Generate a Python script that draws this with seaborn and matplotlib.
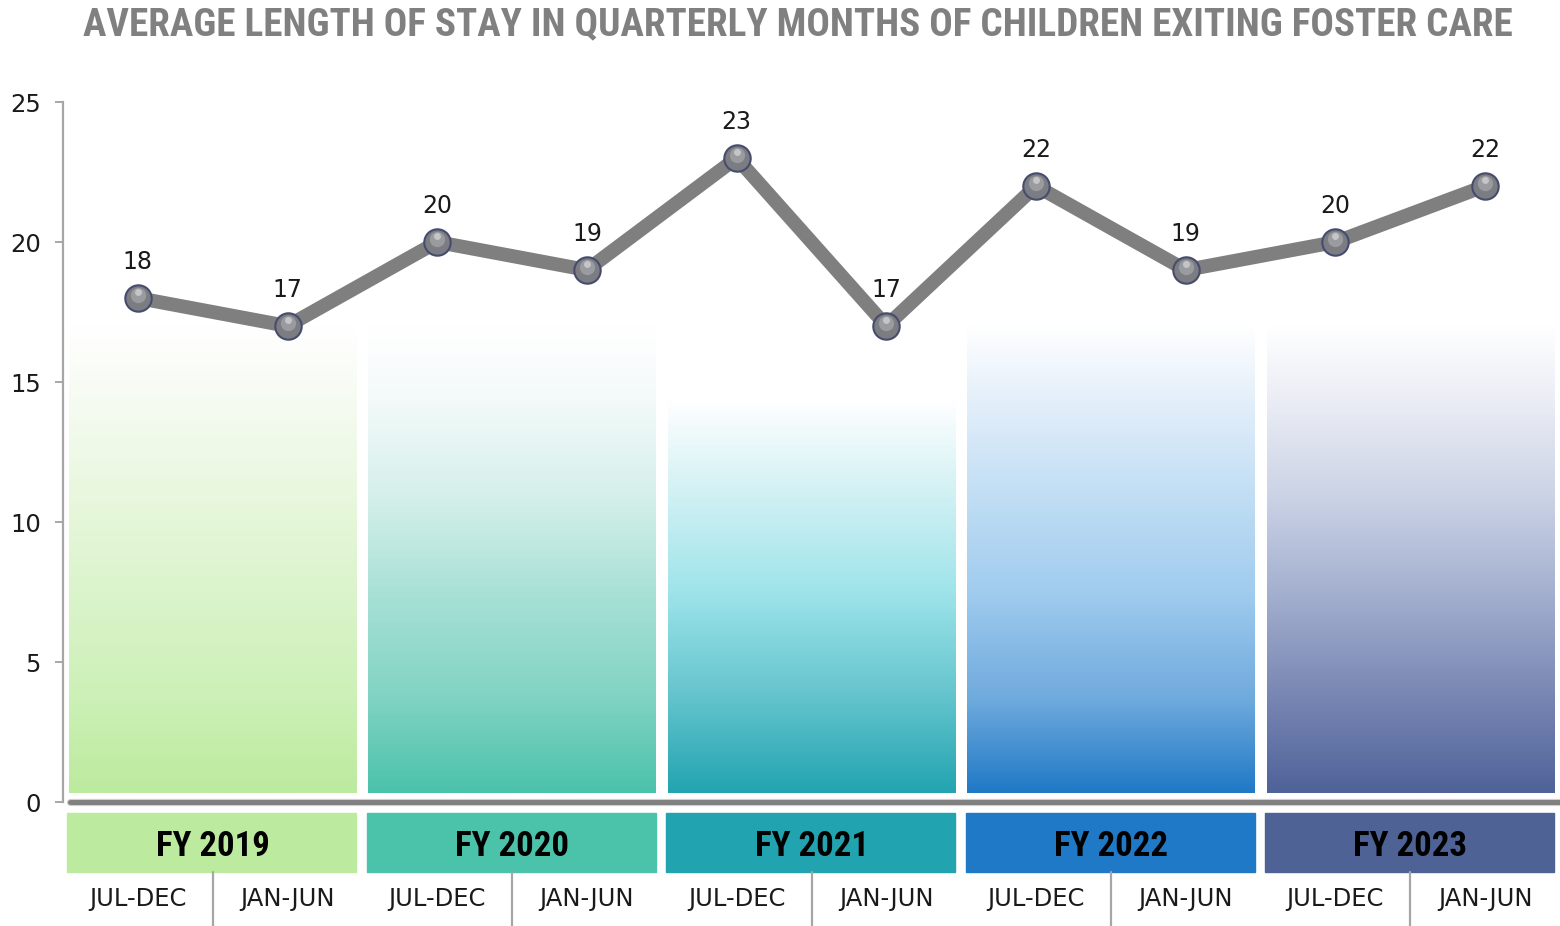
import numpy as np
import pandas as pd
import matplotlib
matplotlib.use("Agg")
import matplotlib.pyplot as plt
import matplotlib.font_manager as fm
from matplotlib.colors import LinearSegmentedColormap
from matplotlib.transforms import offset_copy
import seaborn as sns

# data
fiscal_years = ["FY 2019", "FY 2020", "FY 2021", "FY 2022", "FY 2023"]
periods = ["JUL-DEC", "JAN-JUN"] * 5
avg_stay = [18, 17, 20, 19, 23, 17, 22, 19, 20, 22]

# styling
fy_colors = ["#BCEA9E", "#4BC2AA", "#22A4B0", "#2079C6", "#4F6296"]
gradient_stops = [
    ["#BCEA9E", "#CCF0B6", "#DBF4CC", "#E8F7DD", "#F6FBF2", "#FFFFFF"],
    ["#4BC2AA", "#80D3C3", "#A9E1D6", "#D4EFEA", "#F3FAF9", "#FFFFFF"],
    ["#22A4B0", "#62C3CC", "#9EE4EA", "#CFF0F3", "#FFFFFF", "#FFFFFF"],
    ["#2079C6", "#6FAADD", "#A0CCEE", "#C0DDF4", "#E3EFFA", "#FFFFFF"],
    ["#4F6299", "#7785B2", "#A4B0CF", "#CAD2E5", "#EBEDF5", "#FFFFFF"],
]
stop_pos = [0.0, 0.2, 0.43, 0.63, 0.84, 1.0]

df = pd.DataFrame({"idx": np.arange(len(avg_stay)), "period": periods, "value": avg_stay})

sns.set_theme(style="white")
names = {f.name for f in fm.fontManager.ttflist}
condensed = [n for n in ["Liberation Sans Narrow", "DejaVu Sans Condensed", "Roboto Condensed",
                         "Open Sans Condensed", "Noto Sans Condensed"] if n in names]
bold_family = condensed[:1] + ["DejaVu Sans"]
plt.rcParams["font.family"] = ["DejaVu Sans"]

fig = plt.figure(figsize=(15.6, 9.26), dpi=100)
ax = fig.add_axes([63 / 1560, 1 - 802 / 926, 1 - 63 / 1560, 700 / 926])
renderer = fig.canvas.get_renderer()


def fit_width(txt, target_px):
    w = txt.get_window_extent(renderer).width
    txt.set_fontsize(txt.get_fontsize() * target_px / w)


# gradient panels, one per fiscal year
grad = np.linspace(0, 1, 256).reshape(-1, 1)
for i, fy in enumerate(fiscal_years):
    cmap = LinearSegmentedColormap.from_list(fy, list(zip(stop_pos, gradient_stops[i])))
    ax.imshow(grad, cmap=cmap, origin="lower", aspect="auto",
              extent=(2 * i - 0.46, 2 * i + 1.46, 0.32, 17), zorder=1)

# x baseline
ax.axhline(0, xmin=0.005, xmax=1, color="#D0D0D0", lw=5.2, zorder=2, clip_on=False)
ax.axhline(0, xmin=0.005, xmax=1, color="#808080", lw=3.6, zorder=3, clip_on=False)

# line + sphere markers
sns.lineplot(data=df, x="idx", y="value", ax=ax, color="#7F7F7F", lw=10, zorder=4)
sns.scatterplot(data=df, x="idx", y="value", ax=ax, s=19 ** 2, color="#7C7D82",
                edgecolor="#454C6E", linewidth=1.5, zorder=5)
hl = offset_copy(ax.transData, fig=fig, x=0, y=2.5, units="points")
ax.plot(df["idx"], df["value"], "o", ms=11, color="#9A9B9F", mew=0, transform=hl, zorder=6)
hl2 = offset_copy(ax.transData, fig=fig, x=0, y=4, units="points")
ax.plot(df["idx"], df["value"], "o", ms=5, color="#C4C5C8", mew=0, transform=hl2, zorder=7)

for x, v in zip(df["idx"], df["value"]):
    ax.annotate(f"{v}", (x, v), xytext=(0, 17), textcoords="offset points",
                ha="center", va="bottom", fontsize=17, color="#1A1A1A", zorder=8)

ax.set_xlim(-0.5, 9.5)
ax.set_ylim(0, 25)
ax.set_yticks([0, 5, 10, 15, 20, 25])
ax.set_xticks([])
ax.set_xlabel("")
ax.set_ylabel("")
for s in ["top", "right", "bottom"]:
    ax.spines[s].set_visible(False)
ax.spines["left"].set_color("#A6A6A6")
ax.spines["left"].set_linewidth(1.6)
ax.tick_params(axis="y", left=True, length=6, width=1.4, color="#A6A6A6",
               pad=10, labelsize=17.5, labelcolor="#1A1A1A")

# fiscal year boxes and period labels below the axis
for i, fy in enumerate(fiscal_years):
    ax.add_patch(plt.Rectangle((2 * i - 0.47, -2.5), 1.93, 2.107, color=fy_colors[i],
                               clip_on=False, zorder=2))
    t = ax.text(2 * i + 0.5, -1.6, fy, ha="center", va="center", fontsize=19,
                fontweight="bold", family=bold_family, color="black", clip_on=False)
    fit_width(t, 114)
    ax.plot([2 * i + 0.5, 2 * i + 0.5], [-2.5, -4.45], color="#A6A6A6", lw=1.6,
            clip_on=False)
for x, p in zip(df["idx"], df["period"]):
    ax.text(x, -3.47, p, ha="center", va="center", fontsize=17.5, color="#1A1A1A",
            clip_on=False)

title = fig.text(0.5115, 0.973,
                 "AVERAGE LENGTH OF STAY IN QUARTERLY MONTHS OF CHILDREN EXITING FOSTER CARE",
                 ha="center", va="center", fontsize=21, fontweight="bold",
                 family=bold_family, color="#808080")
fit_width(title, 1427)

fig.savefig("out.png", dpi=100)
